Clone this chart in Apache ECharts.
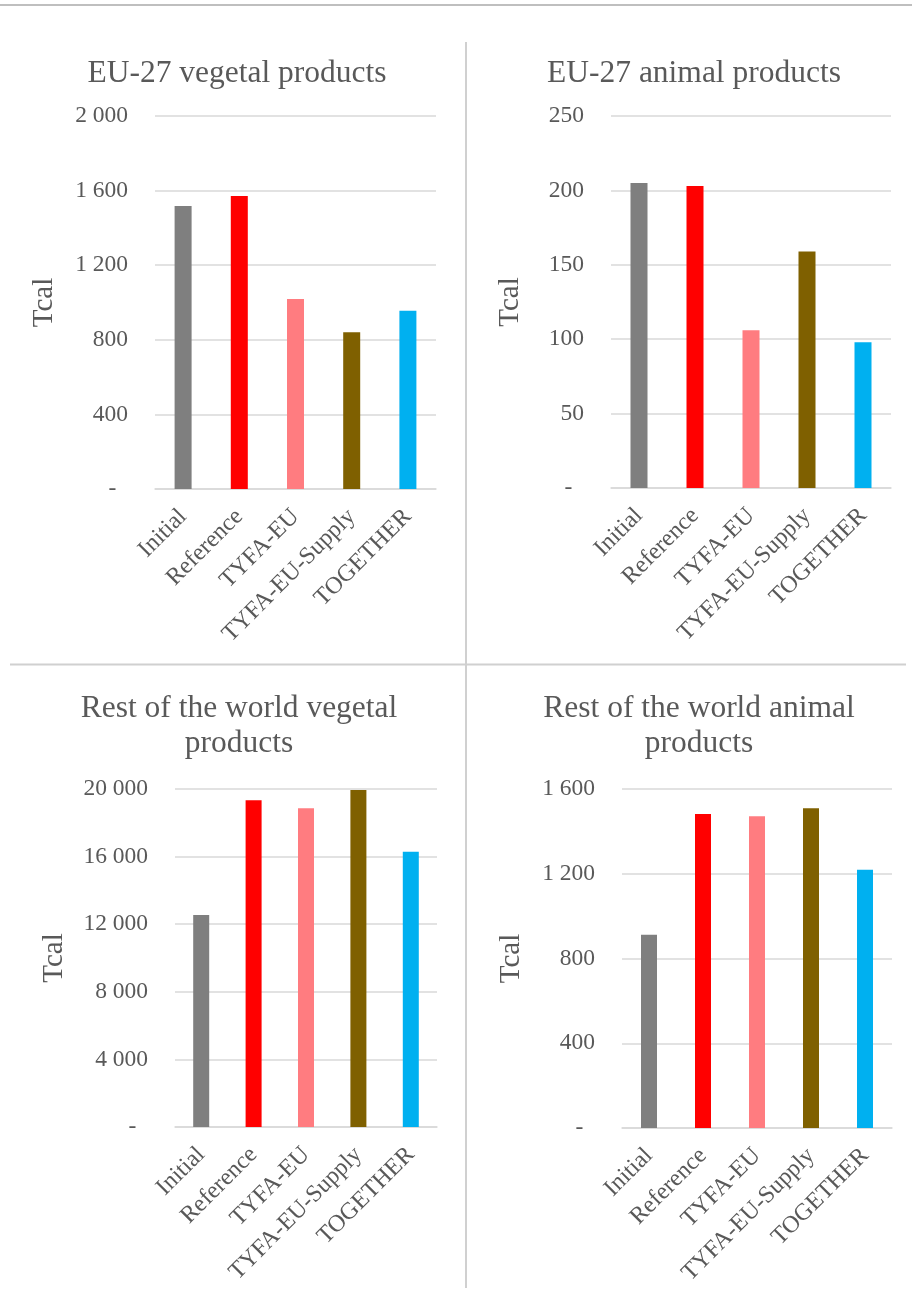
<!DOCTYPE html>
<html>
<head>
<meta charset="utf-8">
<script src="https://cdn.jsdelivr.net/npm/echarts@6/dist/echarts.min.js"></script>
<style>
html,body{margin:0;padding:0;background:#fff;}
#chart{width:912px;height:1290px;}
</style>
</head>
<body>
<div id="chart"></div>
<script>
const categories = ['Initial', 'Reference', 'TYFA-EU', 'TYFA-EU-Supply', 'TOGETHER'];
const barColors = ['#7f7f7f', '#ff0000', '#ff7c80', '#7f6000', '#00b0f0'];
const euVegetal = [1517, 1571, 1019, 840, 956];
const euAnimal = [205, 203, 106, 159, 98];
const rowVegetal = [12540, 19330, 18860, 19940, 16290];
const rowAnimal = [912, 1482, 1471, 1509, 1219];
const panelTitles = ['EU-27 vegetal products', 'EU-27 animal products', 'Rest of the world vegetal\nproducts', 'Rest of the world animal\nproducts'];
const axisMax = [2000, 250, 20000, 1600];
const axisStep = [400, 50, 4000, 400];
const axisName = 'Tcal';

const FONT = '"Liberation Serif", "Times New Roman", serif';
const TXT = '#595959';

function fmt(v) {
  if (v === 0) return '-  ';
  return String(v).replace(/\B(?=(\d{3})+(?!\d))/g, ' ');
}

const grids = [
  {left: 155, top: 116, width: 281, height: 373},
  {left: 611, top: 116, width: 280, height: 372},
  {left: 175, top: 789, width: 262, height: 338},
  {left: 622, top: 789, width: 270, height: 339}
];
const nameGaps = [96, 86, 106, 96];
const barWidths = [17, 17, 16, 16];
const seriesData = [euVegetal, euAnimal, rowVegetal, rowAnimal];
const titlePos = [
  {x: 232, y: 51}, {x: 689, y: 51}, {x: 234, y: 686}, {x: 694, y: 686}
];

const option = {
  animation: false,
  backgroundColor: '#ffffff',
  title: panelTitles.map((t, i) => ({
    text: t,
    left: titlePos[i].x,
    top: titlePos[i].y,
    textAlign: 'center',
    textStyle: {fontFamily: FONT, fontSize: 31.5, fontWeight: 'normal', color: TXT, lineHeight: 35}
  })),
  grid: grids.map(g => Object.assign({containLabel: false}, g)),
  xAxis: grids.map((g, i) => ({
    type: 'category',
    gridIndex: i,
    data: categories,
    axisLine: {show: true, lineStyle: {color: '#d9d9d9', width: 1.5}},
    axisTick: {show: false},
    axisLabel: {
      interval: 0, rotate: 45, margin: 24,
      fontFamily: FONT, fontSize: 24, color: TXT
    }
  })),
  yAxis: grids.map((g, i) => ({
    type: 'value',
    gridIndex: i,
    min: 0,
    max: axisMax[i],
    interval: axisStep[i],
    name: axisName,
    nameLocation: 'middle',
    nameGap: nameGaps[i],
    nameRotate: 90,
    nameTextStyle: {fontFamily: FONT, fontSize: 29, color: TXT},
    axisLine: {show: false},
    axisTick: {show: false},
    splitLine: {lineStyle: {color: '#d9d9d9', width: 1.5}},
    axisLabel: {
      margin: 27, fontFamily: FONT, fontSize: 23.5, color: TXT,
      formatter: fmt
    }
  })),
  series: seriesData.map((d, i) => ({
    type: 'bar',
    xAxisIndex: i,
    yAxisIndex: i,
    barWidth: barWidths[i],
    data: d.map((v, j) => ({value: v, itemStyle: {color: barColors[j]}}))
  })),
  graphic: [
    {type: 'line', shape: {x1: 0, y1: 5, x2: 912, y2: 5}, style: {stroke: '#bfbfbf', lineWidth: 2}, silent: true},
    {type: 'line', shape: {x1: 466, y1: 42, x2: 466, y2: 1288}, style: {stroke: '#d0d0d0', lineWidth: 2}, silent: true},
    {type: 'line', shape: {x1: 10, y1: 664.5, x2: 906, y2: 664.5}, style: {stroke: '#d0d0d0', lineWidth: 2}, silent: true}
  ]
};

const chart = echarts.init(document.getElementById('chart'), null, {renderer: 'canvas'});
chart.setOption(option);
</script>
</body>
</html>
